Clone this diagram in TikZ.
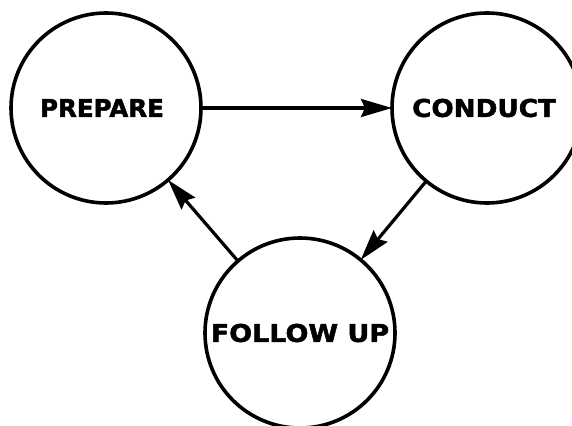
\documentclass[tikz,border=0pt]{standalone}
\usepackage{fontspec}
\setmainfont{DejaVu Sans}[BoldFeatures={FakeBold=1.8}]
\usetikzlibrary{arrows.meta}
\begin{document}
\begin{tikzpicture}[x=1pt,y=-1pt,
  stage/.style={circle,draw=black,line width=3.6pt,minimum size=190pt,inner sep=0pt,outer sep=0pt,
    font=\fontsize{24.5}{24.5}\selectfont\bfseries},
  flow/.style={line width=3.2pt,-{Stealth[length=31pt,width=18pt,inset=4pt]}}]
\clip (0,0) rectangle (572,425);
\fill[white] (0,0) rectangle (572,425);
\node[stage] (prep) at (106,108) {\hspace*{-8pt}PREPARE};
\node[stage] (cond) at (487,108) {\hspace*{-6pt}\scalebox{1.07}[1]{CONDUCT}};
\node[stage] (fol) at (300,333) {\raisebox{-2pt}{\scalebox{1.1}[1]{FOLLOW UP}}};
\draw[flow] (prep) -- (cond);
\draw[flow] (cond) -- (fol);
\draw[flow] (fol) -- (prep);
\end{tikzpicture}
\end{document}
